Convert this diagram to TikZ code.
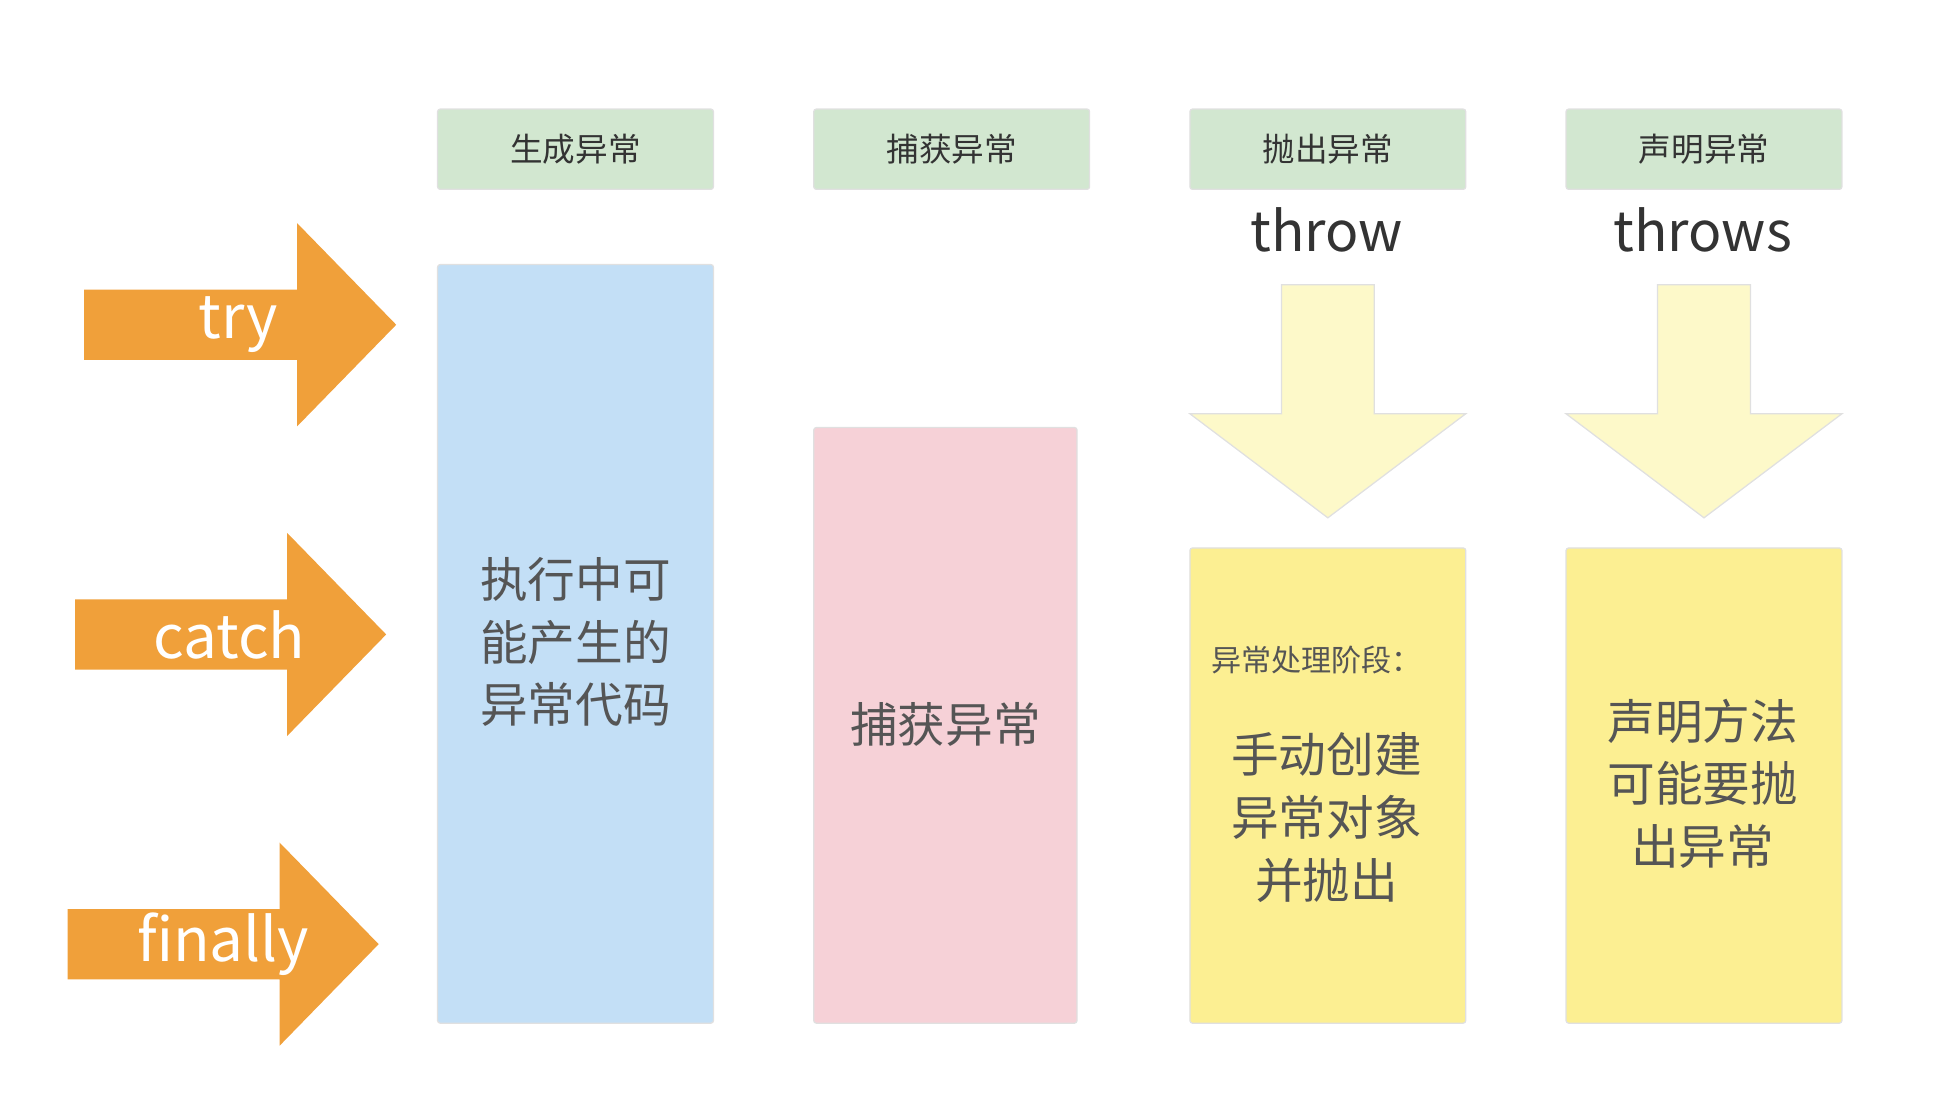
\documentclass[tikz,border=0pt]{standalone}
\usepackage{fontspec}
\setmainfont{Noto Sans CJK SC}
\definecolor{hdr}{HTML}{D2E7D0}
\definecolor{bluef}{HTML}{C3DFF6}
\definecolor{pinkf}{HTML}{F6D1D7}
\definecolor{yelf}{HTML}{FCEF92}
\definecolor{ltyel}{HTML}{FDF9C9}
\definecolor{orng}{HTML}{F0A03A}
\definecolor{txt}{HTML}{555555}
\begin{document}
\begin{tikzpicture}[x=1pt,y=-1pt,
  hbox/.style={draw=black!12,line width=1pt,fill=hdr,rounded corners=2pt},
  col/.style={draw=black!12,line width=1pt,rounded corners=2pt},
  big/.style={text=txt,font=\fontsize{38}{50}\selectfont,align=center},
  kw/.style={text=black!80,font=\fontsize{44}{50}\selectfont},
  okw/.style={text=white,font=\fontsize{48}{50}\selectfont},
  htext/.style={text=black!80,font=\fontsize{26}{30}\selectfont}]
\useasboundingbox (0,0) rectangle (1560,884);
% headers
\foreach \x/\t [count=\i] in {349/生成异常,649/捕获异常,949/抛出异常,1249/声明异常}{
  \draw[hbox] (\x,87) rectangle +(220,64);
  \node[htext] (h\i) at (\x+110,119) {\t};
}
\node[kw] (kthrow) at (1058,183) {throw};
\node[kw] (kthrows) at (1358,183) {throws};
% columns
\draw[col,fill=bluef] (349,211) rectangle (569,816);
\node[big] (b1) at (459,512) {执行中可\\能产生的\\异常代码};
\draw[col,fill=pinkf] (649,341) rectangle (859,816);
\node[big] (b2) at (754,578) {捕获异常};
\draw[col,fill=yelf] (949,437) rectangle (1169,816);
\node[text=txt,font=\fontsize{24}{30}\selectfont] (b3a) at (1050,526) {异常处理阶段：};
\node[big] (b3) at (1058,652) {手动创建\\异常对象\\并抛出};
\draw[col,fill=yelf] (1249,437) rectangle (1469,816);
\node[big] (b4) at (1358,625) {声明方法\\可能要抛\\出异常};
% down arrows
\foreach \x in {1059,1359}{
  \draw[draw=black!12,fill=ltyel,line width=1pt] (\x-37,227) -- (\x+37,227) -- (\x+37,330) -- (\x+110,330) -- (\x,413) -- (\x-110,330) -- (\x-37,330) -- cycle;
}
% orange arrows
\foreach \sx/\hx/\c/\t/\tx in {67/237/259/try/190,60/229/506/catch/183,54/223/753/finally/178}{
  \fill[orng] (\sx,\c-28) -- (\hx,\c-28) -- (\hx,\c-81) -- (\hx+79,\c) -- (\hx,\c+81) -- (\hx,\c+28) -- (\sx,\c+28) -- cycle;
  \node[okw] at (\tx,\c) {\t};
}
\end{tikzpicture}
\end{document}
